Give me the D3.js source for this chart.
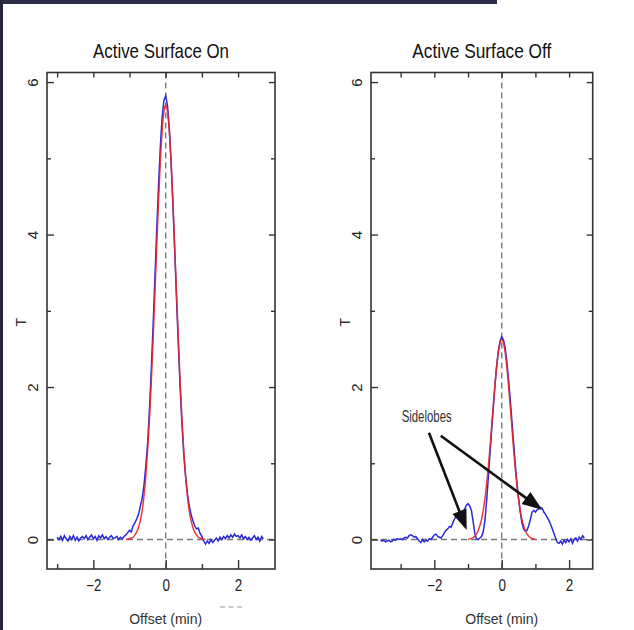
<!DOCTYPE html>
<html><head><meta charset="utf-8">
<script src="https://cdn.jsdelivr.net/npm/d3@7"></script>
<style>body{margin:0;background:#fff} svg{display:block}</style>
</head><body><svg id="c" width="634" height="630"></svg>
<script>
const titles = ["Active Surface On", "Active Surface Off"];
const xTicksMajor = [-2, 0, 2];
const xTicksMinor = [-3, -1, 1];
const yTicksMajor = [0, 2, 4, 6];
const yTicksMinor = [1, 3, 5];
const xLabel = "Offset (min)";
const yLabel = "T";
const annotationText = "Sidelobes";
const annotationPos = [-2.97, 1.54];
const arrowFrom = [[-2.16, 1.40], [-1.81, 1.36]];
const arrowTo = [[-1.04, 0.125], [1.20, 0.39]];

const blueOn = [[-3.00,0.03],[-2.95,0.00],[-2.90,0.04],[-2.85,-0.01],[-2.80,0.05],[-2.75,0.01],[-2.70,-0.02],[-2.65,0.04],[-2.60,0.00],[-2.55,0.05],[-2.50,-0.01],[-2.45,0.03],[-2.40,-0.02],[-2.35,0.02],[-2.30,0.04],[-2.25,0.01],[-2.20,0.05],[-2.15,0.00],[-2.10,0.03],[-2.05,0.06],[-2.00,0.01],[-1.95,0.04],[-1.90,-0.01],[-1.85,0.05],[-1.80,0.02],[-1.75,0.06],[-1.70,0.01],[-1.65,0.04],[-1.60,0.00],[-1.55,0.03],[-1.50,0.05],[-1.45,0.01],[-1.40,0.02],[-1.35,0.04],[-1.30,0.00],[-1.25,0.03],[-1.20,0.01],[-1.15,0.04],[-1.10,0.06],[-1.05,0.09],[-1.00,0.12],[-0.95,0.10],[-0.90,0.18],[-0.85,0.22],[-0.80,0.27],[-0.75,0.33],[-0.70,0.44],[-0.65,0.54],[-0.60,0.71],[-0.55,0.96],[-0.50,1.26],[-0.45,1.69],[-0.40,2.21],[-0.35,2.78],[-0.30,3.41],[-0.25,4.03],[-0.20,4.62],[-0.15,5.14],[-0.10,5.53],[-0.05,5.76],[0.00,5.82],[0.05,5.69],[0.10,5.39],[0.15,4.94],[0.20,4.39],[0.25,3.78],[0.30,3.15],[0.35,2.55],[0.40,1.99],[0.45,1.51],[0.50,1.11],[0.55,0.83],[0.60,0.60],[0.65,0.44],[0.70,0.33],[0.75,0.25],[0.80,0.18],[0.85,0.14],[0.90,0.15],[0.95,0.08],[1.00,0.04],[1.05,-0.02],[1.10,-0.06],[1.15,-0.02],[1.20,-0.05],[1.25,0.00],[1.30,-0.04],[1.35,-0.01],[1.40,0.02],[1.45,-0.02],[1.50,0.03],[1.55,0.00],[1.60,0.04],[1.65,0.01],[1.70,0.05],[1.75,0.02],[1.80,0.06],[1.85,0.03],[1.90,0.07],[1.95,0.04],[2.00,0.05],[2.05,0.02],[2.10,0.06],[2.15,0.01],[2.20,0.04],[2.25,0.00],[2.30,0.03],[2.35,-0.01],[2.40,0.02],[2.45,0.05],[2.50,0.00],[2.55,0.03],[2.60,-0.02],[2.65,0.04],[2.70,0.01]];

const redOn = [[-1.10,0.00],[-1.05,0.005],[-1.00,0.01],[-0.95,0.02],[-0.90,0.03],[-0.85,0.06],[-0.80,0.10],[-0.75,0.16],[-0.70,0.25],[-0.65,0.38],[-0.60,0.57],[-0.55,0.83],[-0.50,1.16],[-0.45,1.57],[-0.40,2.05],[-0.35,2.61],[-0.30,3.21],[-0.25,3.82],[-0.20,4.42],[-0.15,4.94],[-0.10,5.35],[-0.05,5.61],[0.00,5.70],[0.05,5.61],[0.10,5.35],[0.15,4.94],[0.20,4.42],[0.25,3.82],[0.30,3.21],[0.35,2.61],[0.40,2.05],[0.45,1.57],[0.50,1.16],[0.55,0.83],[0.60,0.57],[0.65,0.38],[0.70,0.25],[0.75,0.16],[0.80,0.10],[0.85,0.06],[0.90,0.03],[0.95,0.02],[1.00,0.01],[1.05,0.005],[1.10,0.00]];

const blueOff = [[-3.60,-0.01],[-3.55,-0.02],[-3.50,-0.01],[-3.45,-0.03],[-3.40,-0.02],[-3.35,-0.01],[-3.30,-0.03],[-3.25,-0.02],[-3.20,0.00],[-3.15,-0.01],[-3.10,0.01],[-3.05,0.00],[-3.00,0.01],[-2.95,0.00],[-2.90,0.02],[-2.85,0.03],[-2.80,0.02],[-2.75,0.05],[-2.70,0.06],[-2.65,0.05],[-2.60,0.03],[-2.55,0.04],[-2.50,0.01],[-2.45,-0.02],[-2.40,-0.04],[-2.35,0.00],[-2.30,-0.03],[-2.25,-0.01],[-2.20,-0.02],[-2.15,0.01],[-2.10,0.00],[-2.05,0.03],[-2.00,0.06],[-1.95,0.07],[-1.90,0.04],[-1.85,0.03],[-1.80,0.02],[-1.75,0.05],[-1.70,0.09],[-1.65,0.12],[-1.60,0.14],[-1.55,0.17],[-1.50,0.16],[-1.45,0.22],[-1.40,0.27],[-1.35,0.30],[-1.30,0.28],[-1.25,0.29],[-1.20,0.33],[-1.15,0.36],[-1.10,0.40],[-1.05,0.45],[-1.00,0.47],[-0.95,0.44],[-0.90,0.38],[-0.85,0.24],[-0.80,0.08],[-0.75,0.01],[-0.70,0.00],[-0.65,0.02],[-0.60,0.04],[-0.55,0.10],[-0.50,0.24],[-0.45,0.50],[-0.40,0.80],[-0.35,1.12],[-0.30,1.43],[-0.25,1.74],[-0.20,2.03],[-0.15,2.28],[-0.10,2.47],[-0.05,2.60],[0.00,2.66],[0.05,2.62],[0.10,2.52],[0.15,2.34],[0.20,2.11],[0.25,1.85],[0.30,1.57],[0.35,1.28],[0.40,1.00],[0.45,0.75],[0.50,0.54],[0.55,0.36],[0.60,0.22],[0.65,0.14],[0.70,0.11],[0.75,0.12],[0.80,0.18],[0.85,0.26],[0.90,0.36],[0.95,0.38],[1.00,0.36],[1.05,0.39],[1.10,0.40],[1.15,0.42],[1.20,0.41],[1.25,0.36],[1.30,0.33],[1.35,0.29],[1.40,0.25],[1.45,0.20],[1.50,0.14],[1.55,0.08],[1.60,0.02],[1.65,-0.04],[1.70,-0.05],[1.75,-0.02],[1.80,-0.06],[1.85,-0.01],[1.90,-0.04],[1.95,0.00],[2.00,-0.03],[2.05,0.01],[2.10,-0.05],[2.15,0.00],[2.20,0.02],[2.25,-0.02],[2.30,0.03],[2.35,0.00],[2.40,0.05],[2.45,0.02]];

const redOff = [[-1.00,0.004],[-0.95,0.008],[-0.90,0.015],[-0.85,0.026],[-0.80,0.044],[-0.75,0.073],[-0.70,0.115],[-0.65,0.18],[-0.60,0.26],[-0.55,0.38],[-0.50,0.53],[-0.45,0.72],[-0.40,0.94],[-0.35,1.20],[-0.30,1.48],[-0.25,1.76],[-0.20,2.03],[-0.15,2.27],[-0.10,2.46],[-0.05,2.58],[0.00,2.62],[0.05,2.58],[0.10,2.46],[0.15,2.27],[0.20,2.03],[0.25,1.76],[0.30,1.48],[0.35,1.20],[0.40,0.94],[0.45,0.72],[0.50,0.53],[0.55,0.38],[0.60,0.26],[0.65,0.18],[0.70,0.115],[0.75,0.073],[0.80,0.044],[0.85,0.026],[0.90,0.015],[0.95,0.008],[1.00,0.004]];

const svg = d3.select("#c");
const FONT = "'Liberation Sans Narrow','Arial Narrow','Liberation Sans',Arial,sans-serif";

// background decorations
svg.append("rect").attr("x",0).attr("y",0).attr("width",497).attr("height",4).attr("fill","#2c2c48");
svg.append("rect").attr("x",0).attr("y",0).attr("width",3).attr("height",630).attr("fill","#24243c");

const y = d3.scaleLinear().domain([-0.387, 6.126]).range([569, 72.5]);

const panels = [
  {title: titles[0], titleLen: 136, dom: [-3.28, 3.02], rng: [47, 275], blue: blueOn, red: redOn},
  {title: titles[1], titleLen: 139, dom: [-3.88, 2.70], rng: [371, 592.7], blue: blueOff, red: redOff}
];

const fmtX = d => d < 0 ? "\u2212" + Math.abs(d) : String(d);

panels.forEach((p, i) => {
  const x = d3.scaleLinear().domain(p.dom).range(p.rng);
  p.x = x;
  const g = svg.append("g");
  const [x0, x1] = p.rng, [y0, y1] = [y.range()[1], y.range()[0]];
  const cx = (x0 + x1) / 2;

  // title
  g.append("text").attr("x", cx).attr("y", 58).attr("text-anchor","middle")
    .attr("font-family", FONT).attr("font-size", 21).attr("fill","#111")
    .attr("textLength", p.titleLen).attr("lengthAdjust","spacingAndGlyphs").text(p.title);

  // dashed zero lines
  g.append("line").attr("x1", x0).attr("x2", x1).attr("y1", y(0)).attr("y2", y(0))
    .attr("stroke","#7a7a7a").attr("stroke-width",1.4).attr("stroke-dasharray","6,4");
  g.append("line").attr("x1", x(0)).attr("x2", x(0)).attr("y1", y0).attr("y2", y1)
    .attr("stroke","#7a7a7a").attr("stroke-width",1.4).attr("stroke-dasharray","6,4");

  // data lines
  const lineB = d3.line().x(d => x(d[0])).y(d => y(d[1]));
  const lineR = d3.line().x(d => x(d[0])).y(d => y(d[1])).curve(d3.curveMonotoneX);
  g.append("path").attr("d", lineB(p.blue)).attr("fill","none").attr("stroke","#2a2ad4").attr("stroke-width",1.5);
  g.append("path").attr("d", lineR(p.red)).attr("fill","none").attr("stroke","#e8262c").attr("stroke-width",1.5).attr("opacity",0.9);

  // frame
  g.append("rect").attr("x", x0).attr("y", y0).attr("width", x1 - x0).attr("height", y1 - y0)
    .attr("fill","none").attr("stroke","#333").attr("stroke-width",1.6);

  const styleAxis = sel => { sel.select(".domain").remove(); sel.selectAll("line").attr("stroke","#333").attr("stroke-width",1.4); };

  // bottom axis
  const bMaj = g.append("g").attr("transform",`translate(0,${y1})`)
    .call(d3.axisBottom(x).tickValues(xTicksMajor).tickSize(-9).tickPadding(11).tickFormat(fmtX));
  styleAxis(bMaj);
  bMaj.selectAll("text").attr("font-family", FONT).attr("font-size", 16).attr("fill","#222")
    .attr("textLength", d => d < 0 ? 15 : 7.5).attr("lengthAdjust","spacingAndGlyphs");
  const bMin = g.append("g").attr("transform",`translate(0,${y1})`)
    .call(d3.axisBottom(x).tickValues(xTicksMinor).tickSize(-5).tickFormat(""));
  styleAxis(bMin);
  // top axis
  const tMaj = g.append("g").attr("transform",`translate(0,${y0})`)
    .call(d3.axisTop(x).tickValues(xTicksMajor.concat(xTicksMinor)).tickSize(-5).tickFormat(""));
  styleAxis(tMaj);

  // left axis
  const lMaj = g.append("g").attr("transform",`translate(${x0},0)`)
    .call(d3.axisLeft(y).tickValues(yTicksMajor).tickSize(-7).tickFormat(d3.format("d")));
  styleAxis(lMaj);
  lMaj.selectAll("text").attr("x", null).attr("dy", null).attr("text-anchor","middle")
    .attr("transform","translate(-9,0) rotate(-90)")
    .attr("font-family", FONT).attr("font-size", 15).attr("fill","#222");
  const lMin = g.append("g").attr("transform",`translate(${x0},0)`)
    .call(d3.axisLeft(y).tickValues(yTicksMinor).tickSize(-4).tickFormat(""));
  styleAxis(lMin);
  // right axis
  const rMaj = g.append("g").attr("transform",`translate(${x1},0)`)
    .call(d3.axisRight(y).tickValues(yTicksMajor).tickSize(-6).tickFormat(""));
  styleAxis(rMaj);
  const rMin = g.append("g").attr("transform",`translate(${x1},0)`)
    .call(d3.axisRight(y).tickValues(yTicksMinor).tickSize(-4).tickFormat(""));
  styleAxis(rMin);

  // axis labels
  g.append("text").attr("x", x(0)).attr("y", 624).attr("text-anchor","middle")
    .attr("font-family", FONT).attr("font-size", 15).attr("fill","#333")
    .attr("textLength", 73).attr("lengthAdjust","spacingAndGlyphs").text(xLabel);
  g.append("text").attr("transform", `translate(${x0 - 21},${y(2.85)}) rotate(-90)`).attr("text-anchor","middle")
    .attr("font-family", FONT).attr("font-size", 14).attr("fill","#333").text(yLabel);
});

// small dashed legend remnant under left panel
svg.append("line").attr("x1", 220).attr("x2", 244).attr("y1", 607).attr("y2", 607)
  .attr("stroke","#999").attr("stroke-width",1.2).attr("stroke-dasharray","5,3.5");

// annotation in right panel
const xr = panels[1].x;
svg.append("text").attr("x", xr(annotationPos[0])).attr("y", y(annotationPos[1]))
  .attr("font-family", FONT).attr("font-size", 17).attr("fill","#333")
  .attr("textLength", 50).attr("lengthAdjust","spacingAndGlyphs").text(annotationText);

arrowFrom.forEach((f, i) => {
  const t = arrowTo[i];
  const sx = xr(f[0]), sy = y(f[1]), tx = xr(t[0]), ty = y(t[1]);
  const dx = tx - sx, dy = ty - sy, L = Math.hypot(dx, dy);
  const ux = dx / L, uy = dy / L, hl = 20, hw = 7.5;
  const bx = tx - ux * hl, by = ty - uy * hl;
  svg.append("line").attr("x1", sx).attr("y1", sy).attr("x2", bx + ux * 2).attr("y2", by + uy * 2)
    .attr("stroke","#111").attr("stroke-width",2.6);
  svg.append("path").attr("d", `M${tx},${ty}L${bx - uy * hw},${by + ux * hw}L${bx + uy * hw},${by - ux * hw}Z`)
    .attr("fill","#111");
});
</script></body></html>
